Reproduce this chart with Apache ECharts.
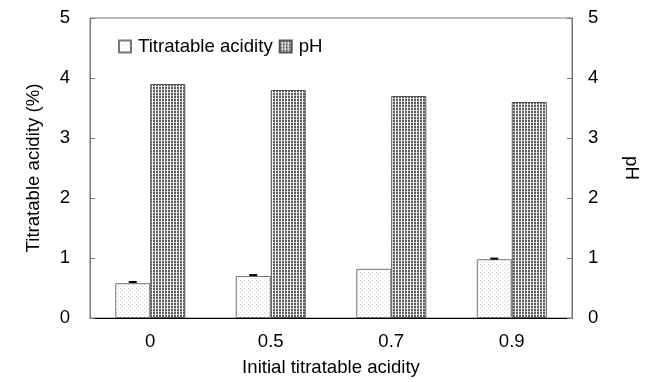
<!DOCTYPE html>
<html>
<head>
<meta charset="utf-8">
<script src="https://cdn.jsdelivr.net/npm/echarts@6/dist/echarts.min.js"></script>
<style>
  html, body { margin: 0; padding: 0; background: #fff; }
  #chart { width: 654px; height: 382px; }
</style>
</head>
<body>
<div id="chart"></div>
<script>
var categories = ['0', '0.5', '0.7', '0.9']
var acidity = [0.58, 0.70, 0.82, 0.98]
var acidityErr = [0.02, 0.015, 0, 0.01]
var ph = [3.9, 3.8, 3.7, 3.6]

var font = '"Liberation Sans", Arial, sans-serif'
var fs = 18.6

// light dotted fill for the acidity bars
function dotPattern () {
  var c = document.createElement('canvas')
  c.width = 4
  c.height = 4
  var ctx = c.getContext('2d')
  ctx.fillStyle = '#fff'
  ctx.fillRect(0, 0, 4, 4)
  ctx.fillStyle = '#d2d2d2'
  ctx.fillRect(0, 0, 1, 1)
  ctx.fillRect(2, 2, 1, 1)
  return c
}

// dark grid fill for the pH bars
function gridPattern () {
  var c = document.createElement('canvas')
  c.width = 3
  c.height = 3
  var ctx = c.getContext('2d')
  ctx.fillStyle = '#fff'
  ctx.fillRect(0, 0, 3, 3)
  ctx.fillStyle = '#5e5e5e'
  ctx.fillRect(0, 0, 2, 2)
  ctx.fillStyle = '#c4c4c4'
  ctx.fillRect(0, 2, 2, 1)
  return c
}

var barWidth = 35

var chart = echarts.init(document.getElementById('chart'))

var option = {
  animation: false,
  textStyle: { fontFamily: font },
  grid: {
    left: 90, right: 82, top: 18, bottom: 64,
    show: true, borderColor: '#777', borderWidth: 1
  },
  legend: {
    left: 113, top: 32,
    icon: 'rect',
    itemWidth: 12, itemHeight: 12, itemGap: 6,
    textStyle: { fontSize: fs, color: '#000', fontFamily: font, padding: [0, 0, 0, 2] },
    data: ['Titratable acidity', 'pH']
  },
  xAxis: {
    type: 'category',
    data: categories,
    name: 'Initial titratable acidity',
    nameLocation: 'middle',
    nameGap: 40,
    nameTextStyle: { fontSize: fs, color: '#000' },
    axisLine: { lineStyle: { color: '#000', width: 1 } },
    axisTick: { inside: true, length: 5, lineStyle: { color: '#777' } },
    axisLabel: { fontSize: fs, color: '#000', margin: 14 }
  },
  yAxis: [{
    type: 'value',
    min: 0, max: 5, interval: 1,
    name: 'Titratable acidity (%)',
    nameLocation: 'middle',
    nameGap: 47,
    nameTextStyle: { fontSize: fs, color: '#000' },
    axisLine: { show: true, lineStyle: { color: '#777' } },
    axisTick: { show: true, inside: true, length: 5, lineStyle: { color: '#777' } },
    axisLabel: { fontSize: fs, color: '#000', margin: 20 },
    splitLine: { show: false }
  }, {
    type: 'value',
    position: 'right',
    min: 0, max: 5, interval: 1,
    name: 'pH',
    nameLocation: 'middle',
    nameGap: 50,
    nameRotate: -90,
    nameTextStyle: { fontSize: fs, color: '#000' },
    axisLine: { show: true, lineStyle: { color: '#777' } },
    axisTick: { show: true, inside: true, length: 5, lineStyle: { color: '#777' } },
    axisLabel: { fontSize: fs, color: '#000', margin: 16 },
    splitLine: { show: false }
  }],
  series: [{
    name: 'Titratable acidity',
    type: 'bar',
    yAxisIndex: 0,
    data: acidity,
    barWidth: barWidth,
    barGap: '0%',
    itemStyle: {
      color: { image: dotPattern(), repeat: 'repeat' },
      borderColor: '#777', borderWidth: 1
    }
  }, {
    name: 'pH',
    type: 'bar',
    yAxisIndex: 1,
    data: ph,
    barWidth: barWidth,
    barGap: '0%',
    itemStyle: {
      color: { image: gridPattern(), repeat: 'repeat' },
      borderColor: '#555', borderWidth: 1
    }
  }, {
    type: 'custom',
    yAxisIndex: 0,
    silent: true,
    z: 10,
    data: acidity.map(function (v, i) { return [i, v, acidityErr[i]] }),
    renderItem: function (params, api) {
      var i = api.value(0)
      var v = api.value(1)
      var e = api.value(2)
      if (!e) return null
      var hi = api.coord([i, v + e])
      var lo = api.coord([i, v])
      var x = hi[0] - barWidth / 2
      var style = { stroke: '#000', lineWidth: 2 }
      return {
        type: 'group',
        children: [
          { type: 'line', shape: { x1: x, y1: hi[1], x2: x, y2: lo[1] }, style: style },
          { type: 'line', shape: { x1: x - 4, y1: hi[1], x2: x + 4, y2: hi[1] }, style: style }
        ]
      }
    }
  }]
}

chart.setOption(option)
</script>
</body>
</html>
